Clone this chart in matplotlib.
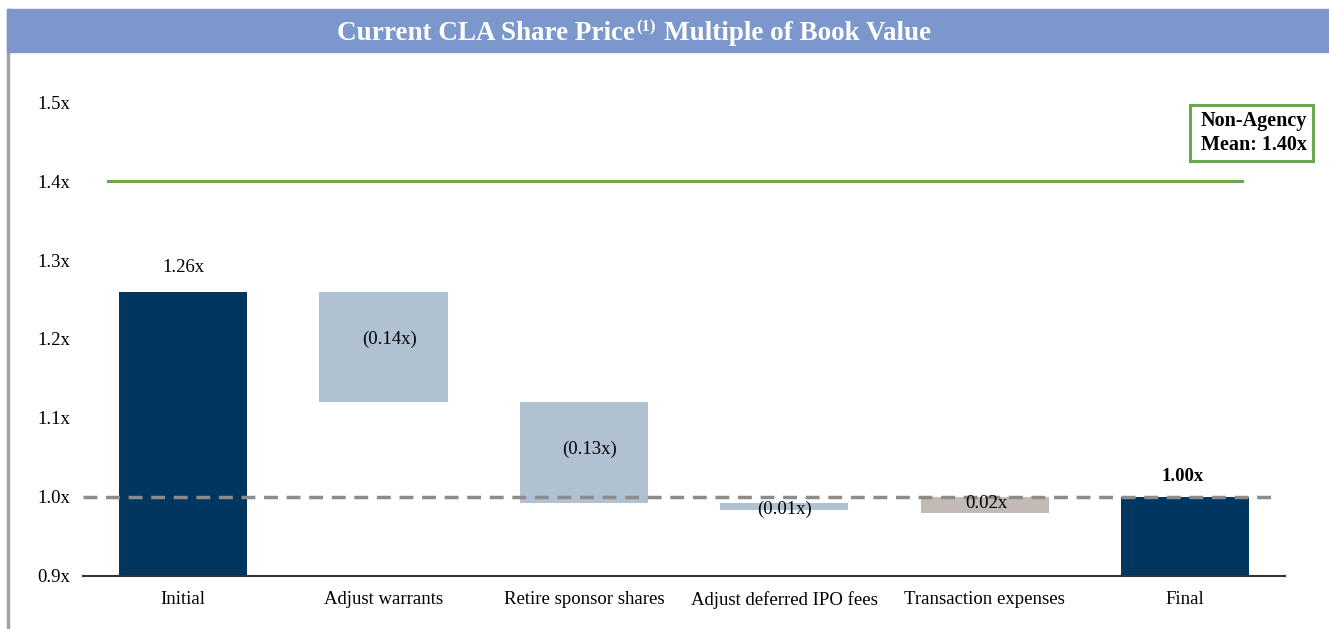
import matplotlib.pyplot as plt
from matplotlib.patches import Rectangle

plt.rcParams['font.family'] = ['Liberation Serif', 'DejaVu Serif']

categories = ["Initial", "Adjust warrants", "Retire sponsor shares",
              "Adjust deferred IPO fees", "Transaction expenses", "Final"]
bottoms = [0.9, 1.12, 0.993, 0.983, 0.98, 0.9]
tops = [1.26, 1.26, 1.12, 0.992, 1.00, 1.00]
labels = ["1.26x", "(0.14x)", "(0.13x)", "(0.01x)", "0.02x", "1.00x"]
colors = ["#003660", "#b0c2d2", "#b0c2d2", "#b0c2d2", "#c2bab4", "#003660"]
yticks = [0.9, 1.0, 1.1, 1.2, 1.3, 1.4, 1.5]
mean_val = 1.40
book_val = 1.00

FS = 13.5

fig = plt.figure(figsize=(13.29, 6.29), dpi=100)

# frame and title banner
fig.patches.append(Rectangle((0.005, 0), 0.002, 0.985, transform=fig.transFigure,
                             color="#a0a0a0", zorder=0))
fig.patches.append(Rectangle((0.005, 0.917), 0.995, 0.068, transform=fig.transFigure,
                             color="#7b97cc", zorder=1))
fig.text(0.478, 0.947, "Current CLA Share Price", ha="right", va="center",
         color="white", fontsize=19.5, fontweight="bold")
fig.text(0.479, 0.956, "(1)", ha="left", va="center", color="white",
         fontsize=12, fontweight="bold")
fig.text(0.500, 0.947, "Multiple of Book Value", ha="left", va="center",
         color="white", fontsize=19.5, fontweight="bold")

ax = fig.add_axes([0.0625, 0.0843, 0.9045, 0.7535])
x = list(range(len(categories)))
heights = [t - b for t, b in zip(tops, bottoms)]
ax.bar(x, heights, bottom=bottoms, width=0.64, color=colors, zorder=2)

ax.plot([-0.375, 5.285], [mean_val, mean_val], color="#6aa84f", lw=2.2, zorder=3)
ax.plot([-0.5, 5.44], [book_val, book_val], color="#8c8c8c", lw=2.5,
        ls=(0, (4, 2.5)), zorder=4)

# value labels
ax.text(0, 1.26 + 0.02, labels[0], ha="center", va="bottom", fontsize=FS)
ax.text(1.03, 1.20, labels[1], ha="center", va="center", fontsize=FS)
ax.text(2.03, 1.06, labels[2], ha="center", va="center", fontsize=FS)
ax.text(3, 0.984, labels[3], ha="center", va="center", fontsize=FS, zorder=5)
ax.text(4.01, 0.992, labels[4], ha="center", va="center", fontsize=FS, zorder=5)
ax.text(4.99, 1.015, labels[5], ha="center", va="bottom", fontsize=FS,
        fontweight="bold")

ax.text(1.018, 0.935, "Non-Agency\n Mean: 1.40x", transform=ax.transAxes,
        ha="right", va="center", fontsize=14.5, fontweight="bold", linespacing=1.3,
        bbox=dict(boxstyle="square,pad=0.3", fc="white", ec="#6aa84f", lw=2.2))

ax.set_xlim(-0.5, 5.5)
ax.set_ylim(0.9, 1.5)
ax.set_yticks(yticks)
ax.set_yticklabels([f"{v:.1f}x" for v in yticks], fontsize=FS)
ax.set_xticks(x)
ax.set_xticklabels(categories, fontsize=FS)
ax.tick_params(length=0, pad=11)
ax.tick_params(axis="y", pad=9)
for s in ["top", "right", "left"]:
    ax.spines[s].set_visible(False)
ax.spines["bottom"].set_color("#333333")
ax.spines["bottom"].set_linewidth(1.5)

fig.savefig("out.png", dpi=100)
